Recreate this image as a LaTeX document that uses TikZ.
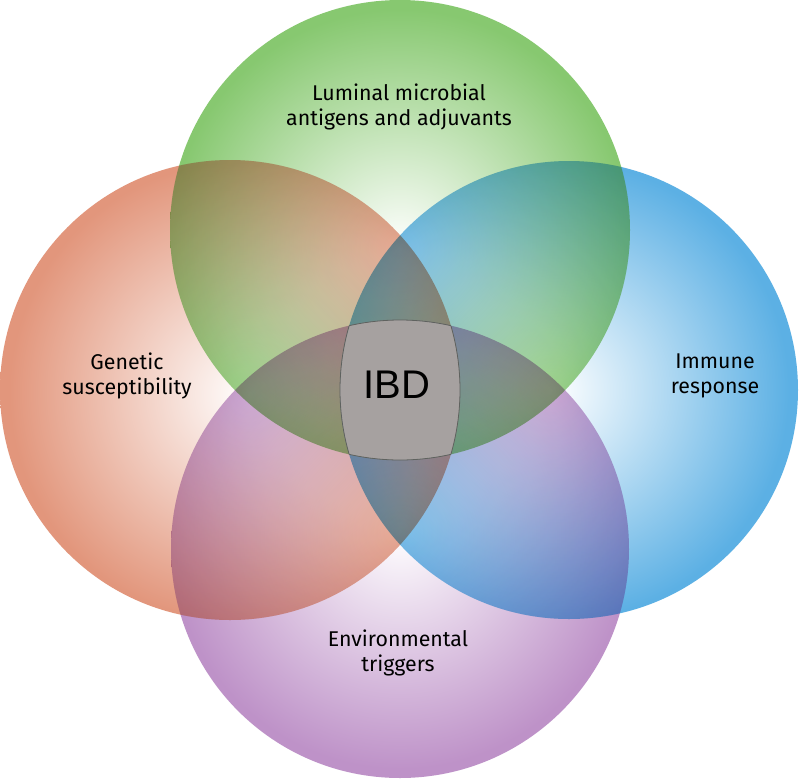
\documentclass[tikz,border=0pt]{standalone}
\usepackage{fontspec}
\setmainfont{Fira Sans}
\newfontfamily\ibdfont{Liberation Sans}
\definecolor{cGreen}{RGB}{135,200,112}
\definecolor{cOrange}{RGB}{226,150,124}
\definecolor{cBlue}{RGB}{92,176,228}
\definecolor{cPurple}{RGB}{190,146,200}
\definecolor{cCenter}{RGB}{166,161,160}
\definecolor{cEdge}{RGB}{95,98,95}
\pgfdeclareradialshading{shGreen}{\pgfpoint{0bp}{-2bp}}{color(0bp)=(white); color(25bp)=(cGreen); color(50bp)=(cGreen)}
\pgfdeclareradialshading{shOrange}{\pgfpoint{2bp}{-0.5bp}}{color(0bp)=(white); color(25bp)=(cOrange); color(50bp)=(cOrange)}
\pgfdeclareradialshading{shBlue}{\pgfpoint{-2bp}{0bp}}{color(0bp)=(white); color(25bp)=(cBlue); color(50bp)=(cBlue)}
\pgfdeclareradialshading{shPurple}{\pgfpoint{0bp}{2bp}}{color(0bp)=(white); color(25bp)=(cPurple); color(50bp)=(cPurple)}
\begin{document}
\begin{tikzpicture}[x=0.75pt,y=-0.75pt,
  lbl/.style={font=\fontsize{16}{19}\selectfont, align=center, text=black, inner sep=0pt},
  ibdlbl/.style={font=\ibdfont\fontsize{30}{30}\selectfont, text=black, inner sep=0pt},
  rim/.style={draw=cEdge, line width=0.6pt},
  disc/.style={blend mode=multiply}]
\fill[white] (0,0) rectangle (800,779);
\useasboundingbox (0,0) rectangle (800,779);
\def\cG{(400,230) circle (230)}
\def\cO{(230,390) circle (230)}
\def\cB{(569,390) circle (229)}
\def\cP{(400,549) circle (229)}
\begin{scope}[disc]
  \shade[shading=shGreen] \cG;
  \shade[shading=shOrange] \cO;
  \shade[shading=shBlue] \cB;
  \shade[shading=shPurple] \cP;
\end{scope}
% soften the overlaps
\begin{scope}[transparency group, opacity=0.12]
  \begin{scope}\clip \cG; \fill[white] \cO; \end{scope}
  \begin{scope}\clip \cG; \fill[white] \cB; \end{scope}
  \begin{scope}\clip \cG; \fill[white] \cP; \end{scope}
  \begin{scope}\clip \cO; \fill[white] \cB; \end{scope}
  \begin{scope}\clip \cO; \fill[white] \cP; \end{scope}
  \begin{scope}\clip \cB; \fill[white] \cP; \end{scope}
\end{scope}
% central region
\begin{scope}
  \clip \cG; \clip \cO; \clip \cB; \clip \cP;
  \fill[cCenter] (300,300) rectangle (500,480);
\end{scope}
\begin{scope}\clip \cO; \clip \cB; \clip \cP; \draw[rim] \cG; \end{scope}
\begin{scope}\clip \cG; \clip \cB; \clip \cP; \draw[rim] \cO; \end{scope}
\begin{scope}\clip \cG; \clip \cO; \clip \cP; \draw[rim] \cB; \end{scope}
\begin{scope}\clip \cG; \clip \cO; \clip \cB; \draw[rim] \cP; \end{scope}
\node[lbl] (lum) at (399,107) {Luminal microbial\\antigens and adjuvants};
\node[lbl] (gen) at (127,376) {Genetic\\susceptibility};
\node[lbl] (imm) at (715,376) {Immune\\response};
\node[lbl] (env) at (398,653) {Environmental\\triggers};
\node[ibdlbl] (ibd) at (397,385) {IBD};
\end{tikzpicture}
\end{document}
